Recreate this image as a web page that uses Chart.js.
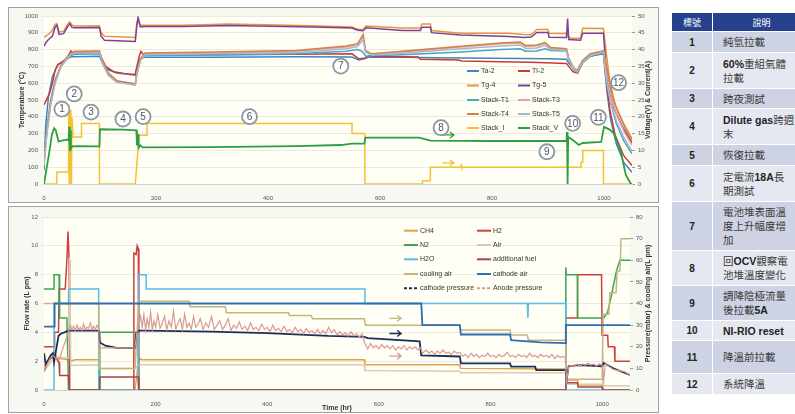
<!DOCTYPE html>
<html>
<head>
<meta charset="utf-8">
<script src="https://cdn.jsdelivr.net/npm/chart.js@4.4.1/dist/chart.umd.min.js"></script>
<style>
html, body { margin: 0; padding: 0; background: #fff; width: 795px; height: 414px; overflow: hidden; font-family: "Liberation Sans", Arial, sans-serif; }
.panel { position: absolute; left: 8px; width: 651px; background: #f8f8f3; outline: 1px solid #a3a3a3; outline-offset: -1px; }
.panel canvas { position: absolute; left: 0; top: 0; }
#topPanel { top: 7px; height: 196px; }
#botPanel { top: 206px; height: 207px; }
table { position: absolute; left: 671px; top: 12px; border-collapse: separate; border-spacing: 1px 1px; width: 140px; }
th { background: #25418d; color: #fff; font-size: 9px; font-weight: normal; height: 18px; padding: 0; font-family: "Noto Sans CJK TC", sans-serif; }
td { padding: 0; }
td.n { width: 40px; text-align: center; font-weight: bold; font-size: 10px; color: #222; }
td.d { padding-left: 10px; font-size: 10.5px; line-height: 14px; color: #3a3a3a; font-family: "Liberation Sans", "Noto Sans CJK TC", sans-serif; font-weight: normal; }
td.d b { color: #222; }
tr.a td { background: #cdd3e2; }
tr.b td { background: #e5e8f0; }
</style>
</head>
<body>
<div class="panel" id="topPanel"><canvas id="chartTemp" width="651" height="196"></canvas></div>
<div class="panel" id="botPanel"><canvas id="chartFlow" width="651" height="207"></canvas></div>
<table>
  <tr><th>標號</th><th>說明</th></tr>
  <tr class="a" style="height:20px"><td class="n">1</td><td class="d">純氫拉載</td></tr>
  <tr class="b" style="height:35px"><td class="n">2</td><td class="d"><b>60%</b>重組氣體<br>拉載</td></tr>
  <tr class="a" style="height:19px"><td class="n">3</td><td class="d">跨夜測試</td></tr>
  <tr class="b" style="height:35px"><td class="n">4</td><td class="d"><b>Dilute gas</b>跨週<br>末</td></tr>
  <tr class="a" style="height:20px"><td class="n">5</td><td class="d">恢復拉載</td></tr>
  <tr class="b" style="height:35px"><td class="n">6</td><td class="d">定電流<b>18A</b>長<br>期測試</td></tr>
  <tr class="a" style="height:48px"><td class="n">7</td><td class="d">電池堆表面溫<br>度上升幅度增<br>加</td></tr>
  <tr class="b" style="height:34px"><td class="n">8</td><td class="d">回<b>OCV</b>觀察電<br>池堆溫度變化</td></tr>
  <tr class="a" style="height:34px"><td class="n">9</td><td class="d">調降陰極流量<br>後拉載<b>5A</b></td></tr>
  <tr class="b" style="height:19px"><td class="n">10</td><td class="d"><b>NI-RIO reset</b></td></tr>
  <tr class="a" style="height:32px"><td class="n">11</td><td class="d">降溫前拉載</td></tr>
  <tr class="b" style="height:20px"><td class="n">12</td><td class="d">系統降溫</td></tr>
</table>
<script>
// ---------- 上圖: 溫度 (°C) 與 電壓/電流 ----------
const ta2 = [[0,80],[3,350],[8,520],[15,640],[25,710],[35,735],[45,752],[50,758],[99,760],[103,730],[115,680],[130,660],[163,648],[166,700],[172,745],[180,755],[300,755],[450,758],[550,756],[562,738],[572,745],[580,755],[640,755],[700,752],[800,748],[900,745],[933,742],[937,720],[945,690],[952,672],[962,735],[975,762],[999,775],[1005,560],[1012,380],[1022,240],[1035,130],[1050,70]];
const tl2 = [[0,470],[5,505],[10,540],[15,600],[20,680],[25,712],[32,722],[40,745],[45,775],[48,792],[52,778],[99,782],[103,750],[110,700],[125,668],[145,657],[163,652],[166,700],[170,760],[173,790],[178,768],[300,770],[450,772],[550,775],[562,745],[572,748],[580,762],[640,758],[668,756],[672,742],[740,738],[746,732],[815,728],[870,724],[933,718],[937,700],[945,668],[953,660],[962,725],[975,760],[999,778],[1004,620],[1010,450],[1020,290],[1035,170],[1050,110]];
const tg4 = [[0,870],[3,880],[8,890],[15,915],[20,950],[23,955],[27,905],[35,910],[42,950],[46,965],[50,945],[55,940],[99,942],[102,900],[108,880],[163,872],[166,960],[168,985],[172,945],[180,945],[250,945],[330,952],[480,942],[550,935],[560,922],[570,918],[575,940],[640,928],[672,928],[675,952],[690,952],[692,914],[744,898],[830,898],[857,890],[870,888],[880,920],[900,920],[902,898],[933,896],[936,880],[940,868],[958,868],[962,927],[999,925],[1004,780],[1010,620],[1020,470],[1035,360],[1050,270]];
const tg5 = [[0,820],[3,840],[8,860],[15,880],[20,935],[23,945],[27,890],[35,895],[42,935],[46,955],[50,932],[55,930],[99,932],[102,880],[108,855],[163,848],[166,950],[168,990],[172,935],[180,938],[250,938],[330,944],[480,935],[550,928],[560,915],[570,912],[575,930],[640,913],[672,913],[675,933],[690,933],[692,901],[744,887],[830,878],[857,872],[870,875],[880,902],[900,902],[902,874],[933,872],[935,985],[937,860],[958,856],[962,897],[999,897],[1003,720],[1008,580],[1018,450],[1033,340],[1050,245]];
const stackT1 = [[0,150],[5,330],[12,500],[20,620],[30,700],[40,740],[48,765],[55,772],[99,775],[104,720],[115,650],[130,612],[163,595],[166,660],[172,735],[180,765],[300,768],[450,775],[540,790],[560,800],[568,790],[575,760],[585,765],[640,770],[744,785],[816,800],[850,805],[860,790],[880,792],[895,805],[905,795],[933,792],[937,740],[946,680],[952,665],[962,720],[975,760],[999,780],[1005,620],[1012,480],[1022,360],[1035,260],[1050,180]];
const stackT3 = [[0,120],[5,300],[12,480],[20,610],[30,700],[40,748],[48,775],[55,785],[99,788],[104,730],[115,655],[130,612],[163,592],[166,660],[172,740],[180,775],[300,780],[450,790],[540,815],[560,830],[570,880],[574,790],[585,772],[640,785],[744,815],[816,835],[850,840],[860,820],[880,822],[895,838],[905,808],[933,802],[937,745],[946,685],[952,672],[962,730],[975,770],[999,790],[1006,640],[1014,500],[1024,400],[1036,310],[1050,230]];
const stackT4 = [[0,130],[5,310],[12,490],[20,615],[30,705],[40,752],[48,780],[55,790],[99,792],[104,735],[115,660],[130,615],[163,595],[166,665],[172,745],[180,780],[300,785],[450,795],[540,822],[560,835],[570,890],[574,795],[585,775],[640,790],[744,820],[816,840],[850,845],[860,825],[880,828],[895,842],[905,812],[933,805],[937,750],[946,690],[952,675],[962,735],[975,775],[999,792],[1007,660],[1015,520],[1025,430],[1037,340],[1050,255]];
const stackT5 = [[0,110],[5,290],[12,470],[20,600],[30,695],[40,742],[48,770],[55,780],[99,782],[104,725],[115,645],[130,605],[163,588],[166,655],[172,735],[180,770],[300,775],[450,783],[540,805],[560,818],[570,860],[574,785],[585,768],[640,778],[744,805],[816,822],[850,828],[860,808],[880,810],[895,825],[905,800],[933,796],[937,742],[946,682],[952,668],[962,725],[975,765],[999,785],[1005,600],[1013,470],[1023,370],[1035,280],[1050,195]];
// 右軸 (V / A)
const stackI = [[0,0],[23,0],[23,3.6],[43,3.6],[44,21],[45,0],[46,21.5],[47,10],[48,22],[49,0],[50,20],[52,14],[67,14],[67,18],[99,18],[99,0],[163,0],[170,14.5],[184,14.5],[184,18],[550,18],[550,15],[573,15],[573,0],[676,0],[676,1],[690,1],[690,5],[744,5],[745,5.6],[746,5],[959,5],[959,6.5],[962,6.5],[962,10],[999,10],[999,0],[1050,0]];
const stackV = [[0,0],[5,5],[10,10],[14,14.6],[18,16.6],[21,16],[26,12.6],[30,12.8],[41,13.2],[44,13],[45,17],[46,10],[47,16],[48,10.5],[50,11.2],[60,11.3],[99,11.2],[100,16.3],[140,16.2],[165,16],[166,11.5],[168,14.8],[169,10.8],[172,11.5],[176,10.9],[300,11],[450,11.3],[530,11.6],[550,12],[572,12],[574,13.8],[670,13.8],[690,12.9],[800,12.8],[933,12.8],[934,15.5],[935,0],[936,14],[945,13],[955,11.6],[962,12.2],[995,12.5],[1000,17],[1010,16.2],[1018,15],[1030,9.6],[1039,2.7],[1048,0],[1050,0]];

// 圖上標號 (時間, 溫度)
const markerNo = ['1','2','3','4','5','6','7','8','9','10','11','12'];
const markerT = [32, 54, 84, 141, 177, 367, 530, 709, 898, 944, 990, 1026];
const markerTemp = [446, 536, 428, 387, 401, 401, 702, 335, 192, 361, 397, 603];

// ---------- 下圖: 流量 (L pm) 與 壓力 ----------
const ch4 = [[0,1.6],[10,2.3],[20,2.5],[25,2.2],[44,2.1],[46,2.6],[48,2.0],[55,2.1],[98,2.1],[99,0],[163,0],[170,2.2],[175,2.1],[574,2.1],[575,1.75],[745,1.75],[746,1.5],[935,1.45],[936,0.7],[956,0.7],[957,0.35],[1000,0.35],[1001,0],[1050,0]];
const h2 = [[0,3],[18,3],[19,4],[26,4],[27,7],[38,7],[41,9],[43,11],[45,9],[46,0],[160,0],[161,9.5],[165,9.4],[167,10],[169,9.8],[170,0],[935,0],[935,5],[956,5],[956,8],[999,8],[1000,3.8],[1010,3.8],[1011,3.0],[1022,3.0],[1023,2.0],[1050,2.0]];
const n2 = [[0,7],[18,7],[18,8],[27,8],[28,5],[41,5],[44,0],[100,0],[100,4],[168,4],[170,0],[935,0],[935,8.5],[936,8.0],[956,8.0],[956,5.0],[1003,5.0],[1010,5.4],[1018,6.8],[1026,8.3],[1032,9.0],[1050,9.0]];
const air = [[0,1.3],[20,2.3],[44,2.2],[46,9.2],[48,1.7],[98,1.75],[99,1.5],[163,1.5],[170,1.75],[574,1.75],[575,1.35],[745,1.3],[746,1.2],[935,1.2],[936,0.4],[1000,0.4],[1001,2.5],[1003,0.3],[1050,0.3]];
const h2o = [[0,0],[18,0],[18,6],[44,6],[44,7],[98,7],[98,0],[169,0],[169,8],[183,8],[183,7],[575,7],[575,6],[866,6],[867,5],[868,6],[935,6],[935,0],[1050,0]];
const addFuel = [[0,1.3],[5,1.8],[10,2.1],[18,2.4],[22,2.2],[27,1.9],[28,1.0],[44,1.0],[45,0],[100,0],[100,0.9],[169,0.9],[170,0],[935,0],[935,0.5],[956,0.5],[957,0.2],[1000,0.2],[1001,0],[1050,0]];
const cathodeAir = [[0,4.4],[18,4.4],[19,6],[676,6],[678,4.5],[745,4.5],[747,3.85],[835,3.85],[837,3.45],[890,3.3],[935,3.25],[935,4.5],[1050,4.5]];
// 右軸 (mbar / L pm)
const coolingAir = [[0,40],[98,40],[99,10],[163,10],[170,41],[260,41],[262,38.5],[325,38.5],[327,35.7],[438,35.7],[440,34.5],[479,34.5],[481,33],[574,33],[576,30],[745,30],[747,27.7],[835,27.7],[837,25.4],[866,25.4],[868,23],[935,23],[936,5],[1000,5],[1002,35],[1012,35],[1014,45],[1025,45],[1027,55],[1032,55],[1034,70],[1050,70]];
const cathodeP = [[0,17],[3,12],[8,14],[12,16],[16,17],[18,13],[22,19],[26,25],[30,26],[40,27],[44,27.5],[98,27.5],[100,22],[110,20.5],[130,19.5],[163,19.5],[165,26],[170,27.5],[180,27.5],[300,27],[400,26.3],[509,25],[574,24.6],[580,24],[673,22.5],[676,16],[745,15.5],[747,12.3],[835,12.3],[837,10.8],[880,10.8],[882,9.2],[935,9.2],[936,3.8],[940,11],[960,11.5],[1000,11],[1003,12.5],[1020,10],[1035,8.5],[1050,7]];
const anodeP = [[0,9],[4,11],[8,13],[12,15],[16,16],[20,15],[24,14.5],[27,14],[44,27],[47,30],[50,28],[53,29.5],[56,27.5],[59,30],[62,28],[65,29],[68,27.5],[71,30.5],[74,28],[77,29],[80,28.5],[83,31],[86,28],[89,29.5],[92,28],[95,30],[98,28.5],[99,19.5],[163,19.5],
  [166,26],[170,30],[173,34],[176,29],[179,35],[182,28],[185,33],[188,29],[191,36],[194,28],[197,32],[200,29],[204,35],[208,28.5],[212,31],[216,34],[220,28],[224,32],[228,29],[232,36.5],[236,28],[240,31],[244,33],[248,28],[252,35],[256,29],[260,31],[264,28],[268,34],[272,29],[276,30.5],[280,33],[285,28],[290,31],[295,29],[300,34],[305,28],[310,30],[315,32],[320,28],[325,30],[330,33],[335,27.5],[340,30],[345,28.5],[350,31.5],[355,28],[360,29.5],[365,27.5],[370,31],[375,28],[380,29],[385,27.5],[390,30.5],[395,28],[400,29],[405,27],[410,30],[415,27.5],[420,28.5],[425,27],[430,29.5],[435,27],[440,28],[445,26.5],[450,29],[455,27],[460,28],[465,26],[470,28.5],[475,26.5],[480,27.5],[485,26],[490,28],[495,26],[500,27.5],[505,26],[510,29],[515,26.5],[520,28],[525,25.5],[530,27],[535,25.5],[540,26.5],[545,25],[550,27],[555,25],[560,26],[565,24.5],[570,26],[573,23],
  [576,21],[580,19],[585,21.5],[590,19.5],[595,20.5],[600,19],[605,21],[610,19.5],[615,20.5],[620,19],[625,20.5],[630,18.5],[635,20],[640,19],[645,20.5],[650,18.5],[655,20],[660,19],[665,20],[670,18.5],[675,19.5],
  [678,17],[685,18.5],[690,17],[695,18],[700,16.5],[705,18],[710,17],[715,18.5],[720,17],[725,17.5],[730,16.5],[735,18],[740,17],[745,17.5],
  [750,15.5],[755,16.5],[760,15],[765,17],[770,15.5],[775,16.5],[780,15],[785,16],[790,15.5],[795,17],[800,15.5],[805,16],[810,15],[815,16.5],[820,15.5],[825,16],[830,17.5],[835,15.5],[840,16],[845,15],[850,16.5],[855,15.5],[860,16],[865,15],[870,17],[875,15.5],[880,16],[885,15],[890,16.5],[895,15.5],[900,16],[905,15],[910,16.5],[915,14.5],[920,16],[925,15],[930,15.5],[934,15],
  [936,4],[940,10.5],[945,11.5],[950,10.8],[955,12],[960,11],[965,12],[970,11.5],[975,12.5],[980,11.5],[985,12],[990,11],[995,12],[1000,11.5],[1003,5],[1006,12],[1012,11],[1020,9.5],[1030,9],[1040,8.5],[1050,7]];

// 箭頭 (起點時間, 終點時間, 值, 軸, 顏色)
const arrowsTop = [[708, 732, 14.6, 'y2', '#2e9e44'], [711, 732, 6.3, 'y2', '#f1c232']];
const arrowsBot = [[619, 640, 4.97, 'y', '#c4b67a'], [619, 640, 3.92, 'y', '#1f2d55'], [619, 640, 2.35, 'y', '#d99a96']];

const pts = a => a.map(([x, y]) => ({ x, y }));
const tickFont = { family: 'Liberation Sans', size: 6 };
const tickColor = '#555';
const plain = v => String(v);

function line(label, data, color, axis, width) {
  return { label, data: pts(data), borderColor: color, backgroundColor: color, yAxisID: axis,
           borderWidth: width || 1.5, pointRadius: 0, tension: 0, fill: false };
}

function decorPlugin(cfg) {
  return {
    id: 'decor',
    beforeDraw(chart) {
      const { ctx, chartArea: a } = chart;
      ctx.save();
      ctx.fillStyle = '#fffff5';
      ctx.fillRect(a.left, a.top, a.width, a.height);
      ctx.restore();
    },
    afterDraw(chart) {
      const { ctx, chartArea: a } = chart;
      const sx = chart.scales.x;
      ctx.save();
      // axis titles
      ctx.fillStyle = '#333';
      ctx.font = 'bold 7px "Liberation Sans"';
      ctx.textAlign = 'center';
      ctx.textBaseline = 'middle';
      const cy = (a.top + a.bottom) / 2;
      [[cfg.leftTitle, cfg.leftX], [cfg.rightTitle, cfg.rightX]].forEach(([t, x]) => {
        ctx.save();
        ctx.translate(x, cy);
        ctx.rotate(-Math.PI / 2);
        ctx.fillText(t, 0, 0);
        ctx.restore();
      });
      if (cfg.xTitle) ctx.fillText(cfg.xTitle, (a.left + a.right) / 2, cfg.xTitleY);

      // legend
      ctx.font = '7px "Liberation Sans"';
      ctx.textAlign = 'left';
      chart.data.datasets.forEach((d, i) => {
        const x = cfg.legCols[i % 2], y = cfg.legRows[Math.floor(i / 2)];
        ctx.strokeStyle = d.borderColor;
        ctx.lineWidth = 2;
        ctx.setLineDash(cfg.dashed && cfg.dashed.includes(i) ? [3, 2] : []);
        ctx.beginPath();
        ctx.moveTo(x, y);
        ctx.lineTo(x + cfg.legLen, y);
        ctx.stroke();
        ctx.setLineDash([]);
        ctx.fillStyle = '#333';
        ctx.fillText(d.label, x + cfg.legLen + 2, y);
      });

      // arrows
      (cfg.arrows || []).forEach(([t0, t1, v, axis, color]) => {
        const x0 = sx.getPixelForValue(t0), x1 = sx.getPixelForValue(t1);
        const y = chart.scales[axis].getPixelForValue(v);
        ctx.strokeStyle = color;
        ctx.lineWidth = 1.3;
        ctx.beginPath();
        ctx.moveTo(x0, y); ctx.lineTo(x1, y);
        ctx.moveTo(x1 - 4, y - 3); ctx.lineTo(x1, y); ctx.lineTo(x1 - 4, y + 3);
        ctx.stroke();
      });

      // numbered markers
      if (cfg.markers) {
        const sy = chart.scales.y;
        markerNo.forEach((n, i) => {
          const x = sx.getPixelForValue(markerT[i]), y = sy.getPixelForValue(markerTemp[i]);
          ctx.beginPath();
          ctx.arc(x, y, 7.5, 0, Math.PI * 2);
          ctx.fillStyle = '#ffffff';
          ctx.fill();
          ctx.strokeStyle = '#8897a4';
          ctx.lineWidth = 1.8;
          ctx.stroke();
          ctx.fillStyle = '#555';
          ctx.font = '10px "Liberation Sans"';
          ctx.textAlign = 'center';
          ctx.fillText(n, x, y + 0.5);
        });
      }
      ctx.restore();
    }
  };
}

function scalesFor(yMax, yStep, y2Max, y2Step, leftW, rightW, xH) {
  return {
    x: {
      type: 'linear', min: 0, max: 1050,
      afterBuildTicks: s => { s.ticks = s.ticks.filter(t => t.value % 200 === 0); },
      ticks: { stepSize: 200, font: tickFont, color: tickColor, maxRotation: 0, padding: 3, callback: plain },
      grid: { display: false },
      border: { color: '#cfcfcf' },
      afterFit: s => { s.height = xH; }
    },
    y: {
      position: 'left', min: 0, max: yMax,
      ticks: { stepSize: yStep, font: tickFont, color: tickColor, padding: 3, callback: plain },
      grid: { color: '#e4e4dc', lineWidth: 0.8, tickLength: 3 },
      border: { display: false },
      afterFit: s => { s.width = leftW; }
    },
    y2: {
      position: 'right', min: 0, max: y2Max,
      ticks: { stepSize: y2Step, font: tickFont, color: tickColor, padding: 3, callback: plain },
      grid: { drawOnChartArea: false, tickLength: 3, color: '#999' },
      border: { display: false },
      afterFit: s => { s.width = rightW; }
    }
  };
}

// later series on top, like the original
function stackOrder(sets) {
  sets.forEach((d, i) => { d.order = -i; });
  return sets;
}

new Chart(document.getElementById('chartTemp'), {
  type: 'line',
  data: {
    datasets: stackOrder([
      line('Ta-2', ta2, '#3d85c6', 'y'),
      line('Tl-2', tl2, '#c83a3a', 'y'),
      line('Tg-4', tg4, '#e69545', 'y'),
      line('Tg-5', tg5, '#7e3f98', 'y'),
      line('Stack-T1', stackT1, '#4aa3c8', 'y'),
      line('Stack-T3', stackT3, '#e6a3a0', 'y'),
      line('Stack-T4', stackT4, '#d4814a', 'y'),
      line('Stack-T5', stackT5, '#a9b6cc', 'y'),
      line('Stack_I', stackI, '#f1c232', 'y2'),
      line('Stack_V', stackV, '#2e9e44', 'y2', 1.8)
    ])
  },
  options: {
    responsive: false,
    animation: false,
    layout: { padding: { top: 9, left: 0, right: 0, bottom: 0 } },
    plugins: { legend: { display: false }, tooltip: { enabled: false } },
    scales: scalesFor(1000, 100, 50, 5, 36, 27, 19)
  },
  plugins: [decorPlugin({
    leftTitle: 'Temperature (°C)', leftX: 14,
    rightTitle: 'Voltage(V) & Current(A)', rightX: 640,
    legCols: [459, 510], legRows: [64, 78.5, 93, 107, 121], legLen: 12,
    arrows: arrowsTop, markers: true
  })]
});

new Chart(document.getElementById('chartFlow'), {
  type: 'line',
  data: {
    datasets: stackOrder([
      line('CH4', ch4, '#e3a24a', 'y'),
      line('H2', h2, '#d23c3c', 'y'),
      line('N2', n2, '#3aa655', 'y'),
      line('Air', air, '#d9ccb0', 'y'),
      line('H2O', h2o, '#55bde6', 'y'),
      line('additional fuel', addFuel, '#a8454a', 'y'),
      line('cooling air', coolingAir, '#c4b67a', 'y2'),
      line('cathode air', cathodeAir, '#2e6fb0', 'y', 1.8),
      line('cathode pressure', cathodeP, '#1f2d55', 'y2', 1.8),
      line('Anode pressure', anodeP, '#d99a96', 'y2', 1.2)
    ])
  },
  options: {
    responsive: false,
    animation: false,
    layout: { padding: { top: 11, left: 0, right: 0, bottom: 0 } },
    plugins: { legend: { display: false }, tooltip: { enabled: false } },
    scales: scalesFor(12, 2, 80, 10, 36, 29, 23)
  },
  plugins: [decorPlugin({
    leftTitle: 'Flow rate (L pm)', leftX: 19,
    rightTitle: 'Pressure(mbar) & cooling air(L pm)', rightX: 640,
    xTitle: 'Time (hr)', xTitleY: 202,
    legCols: [396, 469], legRows: [24.7, 39, 53.3, 68, 82.3], legLen: 14,
    dashed: [8, 9],
    arrows: arrowsBot
  })]
});
</script>
</body>
</html>
